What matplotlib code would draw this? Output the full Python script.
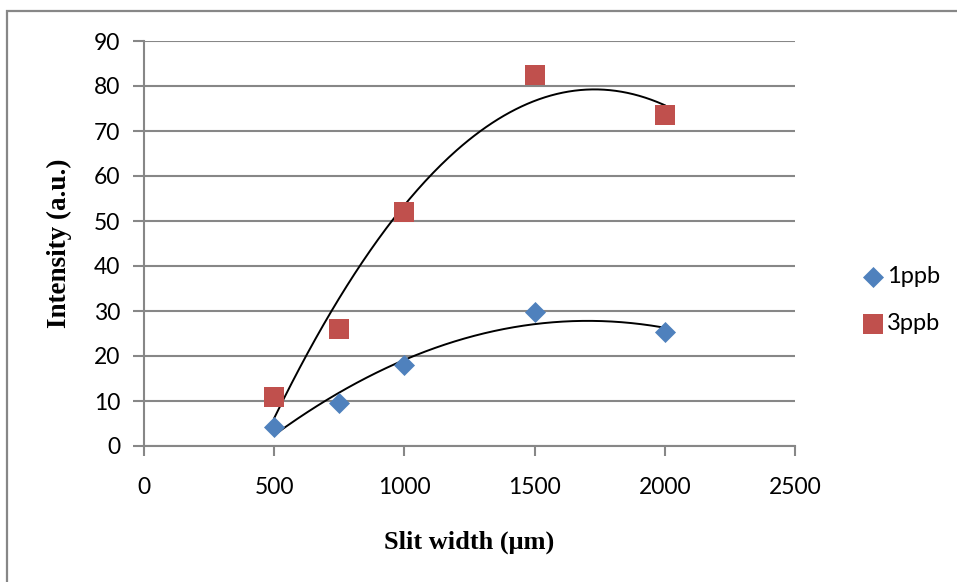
import matplotlib.pyplot as plt
import numpy as np
from matplotlib.patches import Rectangle

# slit widths (um) and measured intensities
slit_width = [500, 750, 1000, 1500, 2000]
intensity_1ppb = [4.3, 9.5, 18.0, 29.7, 25.3]
intensity_3ppb = [11.0, 26.0, 52.0, 82.5, 73.5]

x_ticks = [0, 500, 1000, 1500, 2000, 2500]
y_ticks = [0, 10, 20, 30, 40, 50, 60, 70, 80, 90]

W, H = 957, 582
fig = plt.figure(figsize=(W / 100, H / 100), dpi=100)
ax = fig.add_axes([144 / W, 1 - 446 / H, (795 - 144) / W, (446 - 41) / H])

grid_color = "#878787"

# outer chart frame
fig.patches.append(Rectangle((7 / W, -0.1), 1.2, 1 - 11 / H + 0.1,
                             transform=fig.transFigure, fill=False,
                             edgecolor=grid_color, linewidth=1.6))

# quadratic trendlines through each series
xs = np.linspace(slit_width[0], slit_width[-1], 200)
for series in (intensity_1ppb, intensity_3ppb):
    coef = np.polyfit(slit_width, series, 2)
    ax.plot(xs, np.polyval(coef, xs), color="black", linewidth=1.4, zorder=2)

ax.scatter(slit_width, intensity_1ppb, marker="D", s=115, color="#4F81BD",
           linewidths=0, label="1ppb", zorder=3)
ax.scatter(slit_width, intensity_3ppb, marker="s", s=200, color="#C0504D",
           linewidths=0, label="3ppb", zorder=3)

ax.set_xlim(0, 2500)
ax.set_ylim(0, 90)
ax.set_xticks(x_ticks)
ax.set_yticks(y_ticks)

ax.yaxis.grid(True, color=grid_color, linewidth=1.5)
ax.set_axisbelow(True)
for side in ("top", "right"):
    ax.spines[side].set_visible(False)
for side in ("left", "bottom"):
    ax.spines[side].set_color(grid_color)
    ax.spines[side].set_linewidth(1.5)

ax.tick_params(axis="y", direction="out", length=8, width=1.5,
               color=grid_color, pad=9, labelsize=16.5)
ax.tick_params(axis="x", direction="out", length=7, width=1.5,
               color=grid_color, pad=15, labelsize=16.5)
for lab in ax.get_xticklabels() + ax.get_yticklabels():
    lab.set_fontfamily("Lato")

ax.set_xlabel("Slit width (\u03bcm)", fontfamily="Liberation Serif",
              fontweight="bold", fontsize=19, labelpad=24)
ax.set_ylabel("Intensity (a.u.)", fontfamily="Liberation Serif",
              fontweight="bold", fontsize=19.5, labelpad=16)

leg = ax.legend(loc="center left", bbox_to_anchor=(1.065, 0.36), frameon=False,
                prop={"family": "Lato", "size": 17}, handletextpad=0.0,
                labelspacing=1.1, handlelength=1.2)

fig.savefig("out.png", dpi=100)
